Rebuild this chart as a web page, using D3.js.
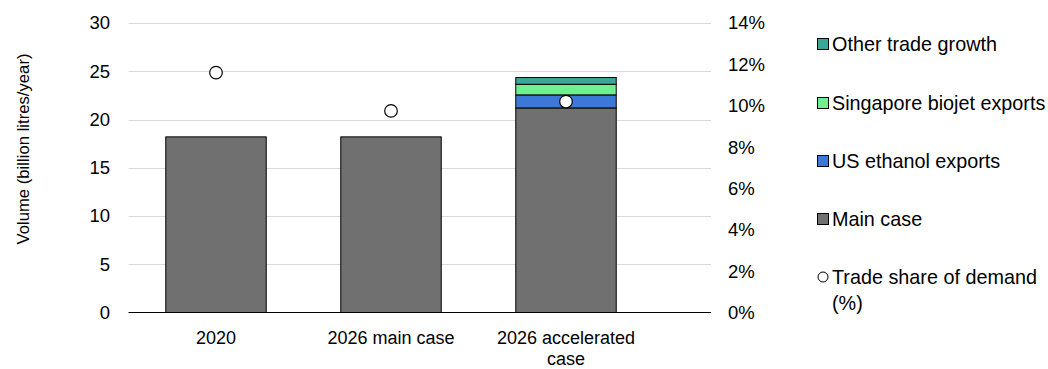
<!DOCTYPE html>
<html>
<head>
<meta charset="utf-8">
<script src="https://cdn.jsdelivr.net/npm/d3@7"></script>
<style>
  html, body { margin: 0; padding: 0; background: #fff; }
  svg { display: block; font-family: "Liberation Sans", Arial, sans-serif; }
</style>
</head>
<body>
<svg id="chart" width="1048" height="369"></svg>
<script>
const categories = ["2020", "2026 main case", "2026 accelerated case"];
const categoryLines = [["2020"], ["2026 main case"], ["2026 accelerated", "case"]];
const mainCase = [18.2, 18.2, 21.2];
const usEthanol = [0, 0, 1.35];
const singaporeBiojet = [0, 0, 1.1];
const otherTrade = [0, 0, 0.7];
const tradeShare = [11.6, 9.75, 10.2];
const leftTicks = [0, 5, 10, 15, 20, 25, 30];
const rightTicks = [0, 2, 4, 6, 8, 10, 12, 14];

const seriesNames = ["Main case", "US ethanol exports", "Singapore biojet exports", "Other trade growth"];
const seriesColors = ["#6f706f", "#3c78d8", "#6cf090", "#3aa898"];
const seriesValues = [mainCase, usEthanol, singaporeBiojet, otherTrade];

const svg = d3.select("#chart");
const plotLeft = 128.5, plotRight = 711, plotTop = 23, plotBottom = 312.5;

const x = d3.scaleBand().domain(categories).range([128.5, 653.5]).paddingInner(0.426).paddingOuter(0.213);
const y = d3.scaleLinear().domain([0, 30]).range([plotBottom, plotTop]);
const y2 = d3.scaleLinear().domain([0, 14]).range([plotBottom, plotTop]);

// gridlines
svg.append("g").selectAll("line").data(leftTicks.filter(d => d > 0)).join("line")
  .attr("x1", plotLeft).attr("x2", plotRight)
  .attr("y1", d => Math.round(y(d)) + 0.5).attr("y2", d => Math.round(y(d)) + 0.5)
  .attr("stroke", "#d9d9d9").attr("stroke-width", 1);

// stacked data
const rows = categories.map((c, i) => {
  const r = { cat: c };
  seriesNames.forEach((s, j) => r[s] = seriesValues[j][i]);
  return r;
});
const stack = d3.stack().keys(seriesNames)(rows);

svg.append("g").selectAll("g").data(stack).join("g")
  .attr("fill", (d, i) => seriesColors[i])
  .selectAll("rect").data(d => d.filter(p => p[1] - p[0] > 0)).join("rect")
  .attr("x", d => x(d.data.cat))
  .attr("width", x.bandwidth())
  .attr("y", d => y(d[1]))
  .attr("height", d => y(d[0]) - y(d[1]))
  .attr("stroke", "#000").attr("stroke-width", 1);

// baseline
svg.append("line").attr("x1", plotLeft).attr("x2", plotRight)
  .attr("y1", plotBottom).attr("y2", plotBottom)
  .attr("stroke", "#000").attr("stroke-width", 1.2);

// trade share points
svg.append("g").selectAll("circle").data(tradeShare).join("circle")
  .attr("cx", (d, i) => x(categories[i]) + x.bandwidth() / 2)
  .attr("cy", d => y2(d))
  .attr("r", 6.3)
  .attr("fill", "#fff").attr("stroke", "#000").attr("stroke-width", 1.2);

// left axis labels
svg.append("g").selectAll("text").data(leftTicks).join("text")
  .attr("x", 110).attr("y", d => y(d)).attr("dy", "0.35em")
  .attr("text-anchor", "end").attr("font-size", 18.5).attr("fill", "#000")
  .text(d => d3.format("d")(d));

// right axis labels
svg.append("g").selectAll("text").data(rightTicks).join("text")
  .attr("x", 728).attr("y", d => y2(d)).attr("dy", "0.35em")
  .attr("text-anchor", "start").attr("font-size", 18.5).attr("fill", "#000")
  .text(d => d + "%");

// category labels
const catG = svg.append("g").selectAll("text").data(categories).join("text")
  .attr("text-anchor", "middle").attr("font-size", 18).attr("fill", "#000")
  .attr("x", d => x(d) + x.bandwidth() / 2).attr("y", 344);
catG.selectAll("tspan").data((d, i) => categoryLines[i]).join("tspan")
  .attr("x", function() { return d3.select(this.parentNode).attr("x"); })
  .attr("dy", (d, i) => i === 0 ? 0 : 20.5)
  .text(d => d);

// y axis title
svg.append("text")
  .attr("transform", "translate(23,149) rotate(-90)")
  .attr("text-anchor", "middle").attr("dy", "0.35em")
  .attr("font-size", 16.7).attr("fill", "#000")
  .text("Volume (billion litres/year)");

// legend
const legendItems = [
  { name: "Other trade growth", color: seriesColors[3], y: 44 },
  { name: "Singapore biojet exports", color: seriesColors[2], y: 103 },
  { name: "US ethanol exports", color: seriesColors[1], y: 161 },
  { name: "Main case", color: seriesColors[0], y: 219 }
];
const lg = svg.append("g");
legendItems.forEach(it => {
  lg.append("rect").attr("x", 817.5).attr("y", it.y - 5.5).attr("width", 11).attr("height", 11)
    .attr("fill", it.color).attr("stroke", "#000").attr("stroke-width", 1);
  lg.append("text").attr("x", 832).attr("y", it.y).attr("dy", "0.35em")
    .attr("font-size", 19.8).attr("fill", "#000").text(it.name);
});
lg.append("circle").attr("cx", 823).attr("cy", 277).attr("r", 5)
  .attr("fill", "#fff").attr("stroke", "#000").attr("stroke-width", 1);
const lt = lg.append("text").attr("x", 832).attr("y", 277).attr("dy", "0.35em")
  .attr("font-size", 19.8).attr("fill", "#000");
lt.append("tspan").attr("x", 832).text("Trade share of demand");
lt.append("tspan").attr("x", 832).attr("dy", 26).text("(%)");
</script>
</body>
</html>
